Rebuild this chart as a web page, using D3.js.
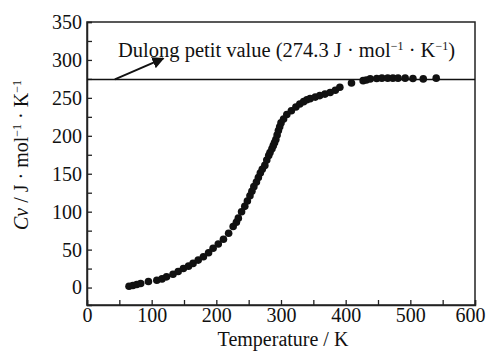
<!DOCTYPE html>
<html>
<head>
<meta charset="utf-8">
<script src="https://cdn.jsdelivr.net/npm/d3@7"></script>
<style>
  body { margin: 0; background: #fff; }
  svg text { font-family: "Liberation Serif", "DejaVu Serif", serif; fill: #111; }
</style>
</head>
<body>
<div id="container"></div>
<script>
// temperature (K) and heat capacity Cv (J/mol/K)
const temperature = [65, 71, 77, 83, 95, 108, 116, 123, 133, 141, 149, 157, 164, 172, 180, 188,
    195, 203, 211, 219, 226, 231, 234, 239, 244, 248, 252, 255, 258, 262, 265, 268, 271, 275, 278,
    281, 283, 286, 288, 290, 292, 294, 296, 298, 300, 304, 309, 316, 323, 329, 335, 340, 345, 353,
    360, 368, 376, 384, 391, 409, 427, 432, 438, 448, 456, 465, 473, 481, 492, 504, 520, 540];
const cv = [1.7, 2.7, 4.0, 5.3, 8.0, 9.7, 11.4, 14.1, 17.6, 21.2, 25.2, 28.2, 31.8, 36.2, 40.6, 45.9,
    51.7, 57.4, 63.7, 71.6, 80.4, 86, 91.5, 100, 107, 114, 121, 127, 133, 139, 145, 151, 156, 161, 168,
    174, 178, 183, 187, 191, 195, 201, 207, 212, 217, 222, 228, 233, 238, 242, 245, 247.5, 249, 251,
    253, 255, 257, 260, 264, 269.6, 272.7, 273.6, 275, 275.6, 276, 276, 276, 276, 276, 275.6, 275, 276];

const dulongValue = 274.3;
const xTicks = [0, 50, 100, 150, 200, 250, 300, 350, 400, 450, 500, 550, 600];
const yTicks = [0, 25, 50, 75, 100, 125, 150, 175, 200, 225, 250, 275, 300, 325, 350];

const width = 488, height = 351;
const margin = { top: 22, right: 13, bottom: 46, left: 87 };

const svg = d3.select("#container")
    .append("svg")
    .attr("width", width)
    .attr("height", height);

const x = d3.scaleLinear().domain([0, 600]).range([margin.left, width - margin.right]);
const y = d3.scaleLinear().domain([-23, 350]).range([height - margin.bottom, margin.top]);

// frame
svg.append("rect")
    .attr("x", margin.left)
    .attr("y", margin.top)
    .attr("width", width - margin.left - margin.right)
    .attr("height", height - margin.top - margin.bottom)
    .attr("fill", "none")
    .attr("stroke", "#222")
    .attr("stroke-width", 1.5);

const xAxis = svg.append("g")
    .attr("transform", `translate(0,${height - margin.bottom})`)
    .call(d3.axisBottom(x)
        .tickValues(xTicks)
        .tickSize(-5)
        .tickPadding(3)
        .tickFormat(d => d % 100 === 0 ? d : ""));

const yAxis = svg.append("g")
    .attr("transform", `translate(${margin.left},0)`)
    .call(d3.axisLeft(y)
        .tickValues(yTicks)
        .tickSize(-5)
        .tickPadding(5)
        .tickFormat(d => d % 50 === 0 ? d : ""));

[xAxis, yAxis].forEach(g => {
    g.select(".domain").attr("stroke", "#222").attr("stroke-width", 1.5);
    g.selectAll(".tick line").attr("stroke", "#222").attr("stroke-width", 1.3);
    g.selectAll(".tick text")
        .attr("font-family", "Liberation Serif")
        .attr("font-size", 20)
        .attr("fill", "#111");
});
xAxis.selectAll(".tick text").attr("dy", "0.72em");
// keep the last label inside the window
xAxis.selectAll(".tick text").filter(d => d === 600).attr("dx", -5);

// Dulong-Petit line
svg.append("line")
    .attr("x1", x(0)).attr("x2", x(600))
    .attr("y1", y(dulongValue)).attr("y2", y(dulongValue))
    .attr("stroke", "#111")
    .attr("stroke-width", 1.5);

// data points
svg.append("g")
    .selectAll("circle")
    .data(temperature.map((t, i) => ({ t, c: cv[i] })))
    .join("circle")
    .attr("cx", d => x(d.t))
    .attr("cy", d => y(d.c))
    .attr("r", 3.8)
    .attr("fill", "#111");

// annotation arrow
svg.append("defs").append("marker")
    .attr("id", "arrow")
    .attr("viewBox", "0 0 10 10")
    .attr("refX", 9).attr("refY", 5)
    .attr("markerWidth", 6).attr("markerHeight", 6)
    .attr("orient", "auto")
    .append("path")
    .attr("d", "M0,0 L10,5 L0,10 Z")
    .attr("fill", "#111");

svg.append("line")
    .attr("x1", x(43)).attr("y1", y(dulongValue))
    .attr("x2", x(118)).attr("y2", y(302))
    .attr("stroke", "#111")
    .attr("stroke-width", 2)
    .attr("marker-end", "url(#arrow)");

const note = svg.append("text")
    .attr("x", x(48))
    .attr("y", 57)
    .attr("font-size", 20.5);
note.append("tspan").text("Dulong petit value (274.3 J · mol");
note.append("tspan").attr("dy", -7).attr("font-size", 12).text("−1");
note.append("tspan").attr("dy", 7).text(" · K");
note.append("tspan").attr("dy", -7).attr("font-size", 12).text("−1");
note.append("tspan").attr("dy", 7).text(")");

// axis titles
svg.append("text")
    .attr("x", 283)
    .attr("y", 346)
    .attr("text-anchor", "middle")
    .attr("font-size", 20)
    .text("Temperature / K");

const yTitle = svg.append("text")
    .attr("transform", "translate(28,155) rotate(-90)")
    .attr("text-anchor", "middle")
    .attr("font-size", 20);
yTitle.append("tspan").attr("font-style", "italic").text("Cv");
yTitle.append("tspan").text(" / J · mol");
yTitle.append("tspan").attr("dy", -7).attr("font-size", 12).text("−1");
yTitle.append("tspan").attr("dy", 7).text(" · K");
yTitle.append("tspan").attr("dy", -7).attr("font-size", 12).text("−1");
</script>
</body>
</html>
